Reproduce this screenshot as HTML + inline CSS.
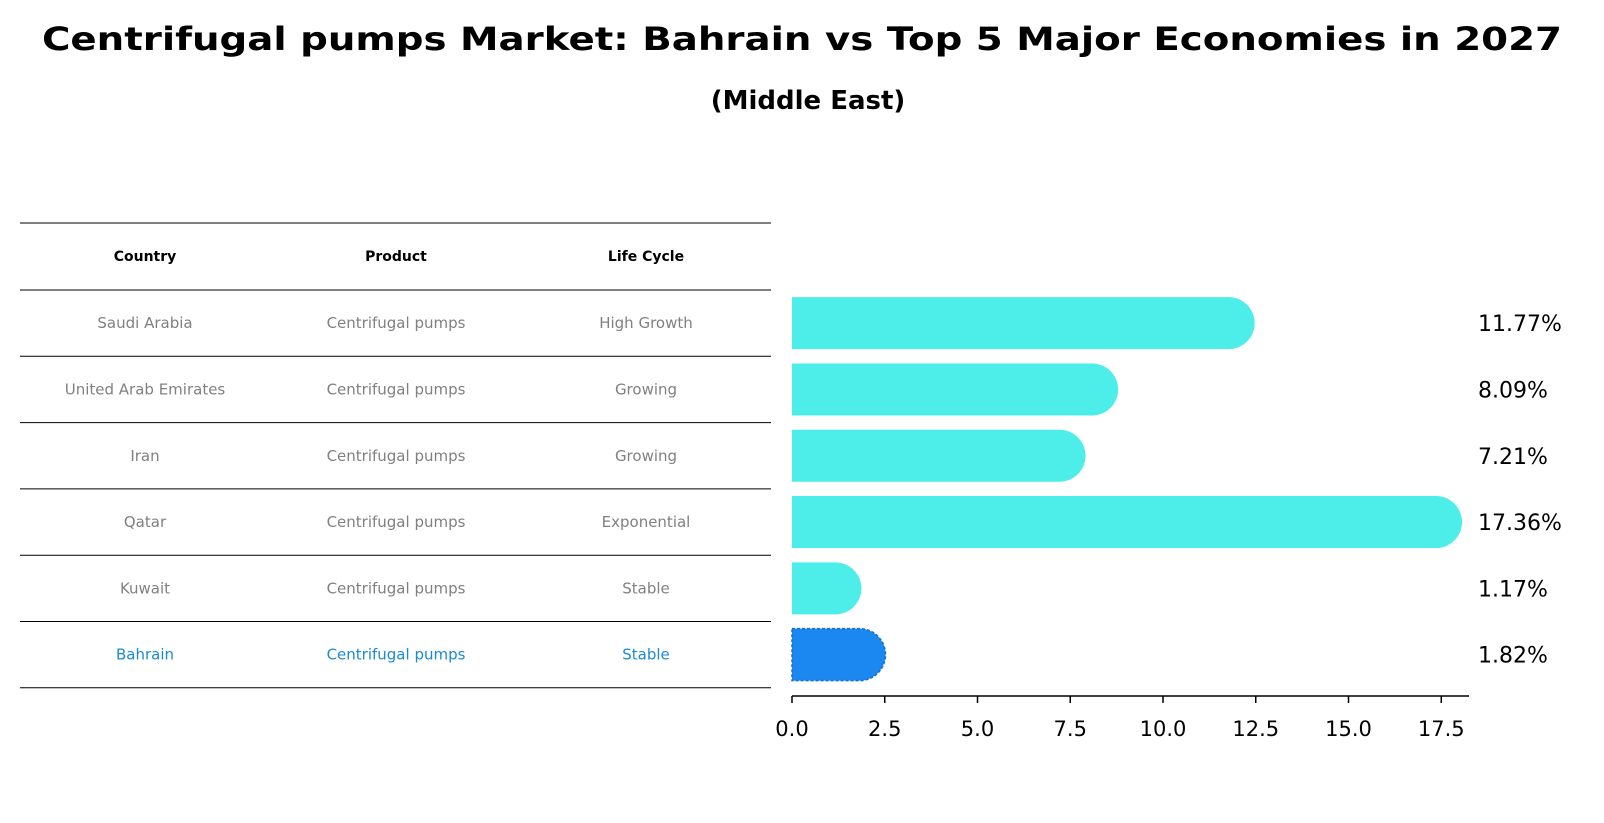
<!DOCTYPE html>
<html><head><meta charset="utf-8"><style>
html,body{margin:0;padding:0;background:#fff;}
svg{display:block;font-family:"DejaVu Sans","Liberation Sans",sans-serif;}
</style></head><body>
<svg id="chart" width="1604" height="823" viewBox="0 0 1604 823" xmlns="http://www.w3.org/2000/svg">
<text x="802" y="50" text-anchor="middle" font-size="32" font-weight="bold" textLength="1520" lengthAdjust="spacingAndGlyphs">Centrifugal pumps Market: Bahrain vs Top 5 Major Economies in 2027</text>
<text x="808" y="109" text-anchor="middle" font-size="26" font-weight="bold">(Middle East)</text>
<g id="table"></g>
<g id="bars"></g>
</svg>
<script>
const countries = ["Saudi Arabia","United Arab Emirates","Iran","Qatar","Kuwait","Bahrain"];
const products = ["Centrifugal pumps","Centrifugal pumps","Centrifugal pumps","Centrifugal pumps","Centrifugal pumps","Centrifugal pumps"];
const lifeCycles = ["High Growth","Growing","Growing","Exponential","Stable","Stable"];
const values = [11.77,8.09,7.21,17.36,1.17,1.82];
const valueLabels = ["11.77%","8.09%","7.21%","17.36%","1.17%","1.82%"];
const xTicks = [0,2.5,5,7.5,10,12.5,15,17.5];
const xTickLabels = ["0.0","2.5","5.0","7.5","10.0","12.5","15.0","17.5"];

const NS="http://www.w3.org/2000/svg";
function mk(tag,attrs,parent){const e=document.createElementNS(NS,tag);for(const k in attrs)e.setAttribute(k,attrs[k]);parent.appendChild(e);return e;}
const x0=792, pxPer=37.1;
const xScale=v=>x0+v*pxPer;
const rowTop=290, rowH=66.3, barH=52;
const yCenter=i=>rowTop+rowH*i+rowH/2;

// table
const tbl=document.getElementById('table');
const colX=[145,396,646];
for(let i=0;i<=7;i++){
  const y=i===0?223:rowTop+rowH*(i-1);
  const l=mk('line',{x1:20,x2:771,y1:y,y2:y,stroke:'#000','stroke-width':1},tbl);
  
  
}
["Country","Product","Life Cycle"].forEach((h,j)=>{
  const t=mk('text',{x:colX[j],y:261,'text-anchor':'middle','font-size':14,'font-weight':'bold'},tbl);
  t.textContent=h;
  
  
});
countries.forEach((c,i)=>{
  const col=c==="Bahrain"?'#1a8ad4':'#808080';
  [c,products[i],lifeCycles[i]].forEach((s,j)=>{
    const t=mk('text',{x:colX[j],y:yCenter(i)+5,'text-anchor':'middle','font-size':15,fill:col},tbl);
    t.textContent=s;
    
    
  });
});

// bars
const g=document.getElementById('bars');
values.forEach((v,i)=>{
  const isB=countries[i]==="Bahrain";
  const xe=xScale(v), yt=yCenter(i)-barH/2, r=barH/2;
  const d=`M${x0},${yt} H${xe} A${r},${r} 0 0 1 ${xe},${yt+barH} H${x0} Z`;
  const p=mk('path',{d:d,fill:isB?'#1a88f0':'#4deeea'},g);
  if(isB){p.setAttribute('stroke','#1670d0');p.setAttribute('stroke-width','1.5');p.setAttribute('stroke-dasharray','3,2');}
  
  
  const t=mk('text',{x:1478,y:yCenter(i)+8,'font-size':22},g);
  t.textContent=valueLabels[i];
  
  
});
const ax=mk('line',{x1:x0,x2:1469,y1:696,y2:696,stroke:'#000','stroke-width':1.5},g);


xTicks.forEach((v,i)=>{
  const x=xScale(v);
  const tk=mk('line',{x1:x,x2:x,y1:696,y2:703,stroke:'#000','stroke-width':1.5},g);
  
  
  const t=mk('text',{x:x,y:736,'text-anchor':'middle','font-size':21},g);
  t.textContent=xTickLabels[i];
  
  
});
</script>
</body></html>
